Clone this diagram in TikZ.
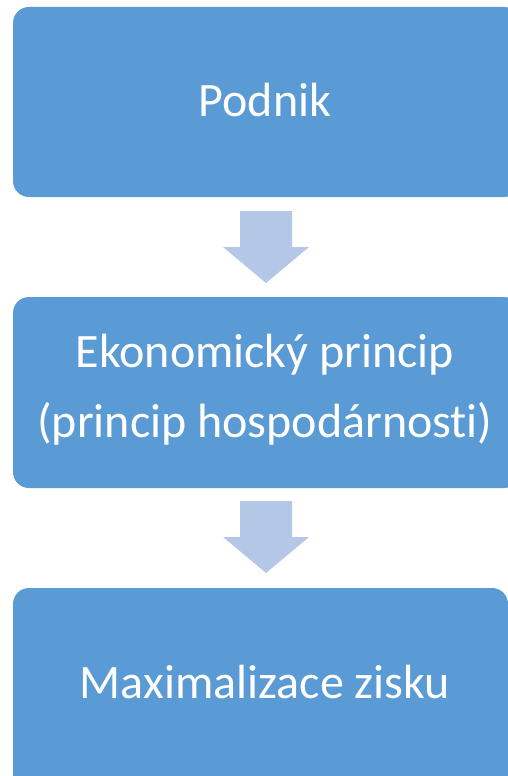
\documentclass[tikz,border=0pt]{standalone}
\usepackage{fontspec}
\setmainfont{Carlito}[Ligatures={NoCommon}]
\definecolor{boxblue}{HTML}{5B9BD5}
\definecolor{arrowblue}{HTML}{B4C7E7}
\tikzset{
  stagebox/.style={fill=boxblue, draw=none, rounded corners=16pt},
  stagetext/.style={text=white, font=\fontsize{48}{70}\selectfont, align=center, inner sep=0pt},
  downarrow/.style={fill=arrowblue, draw=none}
}
\begin{document}
\begin{tikzpicture}[x=1pt,y=-1pt]
\useasboundingbox (0,0) rectangle (507,776);
\fill[white] (0,0) rectangle (507,776);
% boxes
\fill[stagebox] (13,7) rectangle (520,197);
\fill[stagebox] (13,297) rectangle (520,488);
\fill[stagebox] (13,588) rectangle (508,790);
% texts
\node[stagetext] (a) at (265,100) {Podnik};
\node[stagetext] (b) at (265,390) {Ekonomický princip\\(princip hospodárnosti)};
\node[stagetext] (c) at (265,682) {Maximalizace zisku};
% arrows
\fill[downarrow] (240,211) -- (292,211) -- (292,247) -- (309,247) -- (266,283) -- (223,247) -- (240,247) -- cycle;
\fill[downarrow] (240,501) -- (292,501) -- (292,537) -- (309,537) -- (266,573) -- (223,537) -- (240,537) -- cycle;
\end{tikzpicture}
\end{document}
